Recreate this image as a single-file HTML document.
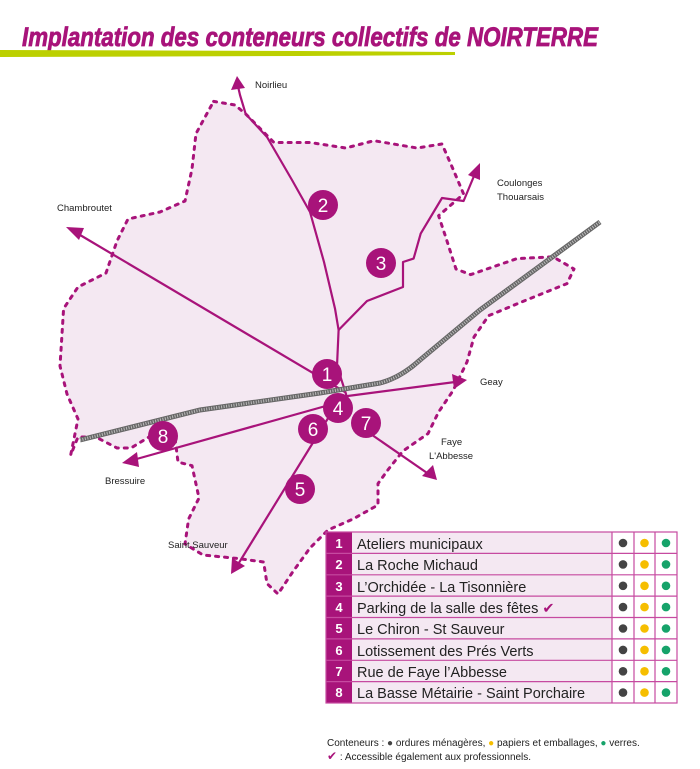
<!DOCTYPE html>
<html><head><meta charset="utf-8"><style>
body{margin:0;width:700px;height:769px;background:#fff;overflow:hidden;position:relative;font-family:"Liberation Sans",sans-serif}
svg{position:absolute;left:0;top:0}
</style></head><body>
<svg width="700" height="769" viewBox="0 0 700 769">
<text x="22" y="46" font-family="Liberation Sans Narrow, Liberation Sans, sans-serif" font-weight="bold" font-style="italic" font-size="27" fill="#a8137a" stroke="#a8137a" stroke-width="0.8" textLength="576" lengthAdjust="spacingAndGlyphs">Implantation des conteneurs collectifs de NOIRTERRE</text>
<path d="M0 50 L300 51 L455 52 L455 55 L300 56 L0 57 Z" fill="#bcd000"/>
<path d="M213.6,101.4 L235,105 L245.7,114 L274,142.5 L310,142.5 L345.7,148 L374,140.7 L417,148 L442,144 L453,169 L463.6,194 L438.6,215.7 L445.7,237 L456,269 L470.7,274.6 L517,258.6 L553,256.8 L574,269 L567,283.6 L524,301 L488.6,315.7 L474,337 L467,362 L453,390.7 L438.6,412 L428,433.6 L403,451 L388.6,469 L378,483.6 L378,505 L353,519 L328,530 L310,548 L292,573 L278,594 L267,583.6 L263.6,562 L238.6,558.6 L203,555 L185,544 L188.6,519 L199,498 L192,465.7 L178,462 L174,430 L149,437 L131,448 L117,448 L95.7,437 L78,437 L70.7,455 L78,419 L67,394 L60,366 L63.6,308.6 L78,287 L106,273 L117,241 L128,219 L160,212 L185,201 L192,169 L196,133.6 Z" fill="#f4e8f2" stroke="#a8137a" stroke-width="3" stroke-dasharray="3,6" stroke-linecap="round" stroke-linejoin="round"/>
<g stroke="#a8137a" stroke-width="2.2" fill="none" stroke-linejoin="round">
<path d="M237,82 L240,95 L245.7,114 L267,137 L292,180 L310,212 L324,262 L335,308.6 L338.6,330 L337,366 L346,394 L349,412"/>
<path d="M338.6,330 L367,301 L403,287 L403,262 L413.6,258.6 L420.7,233.6 L442,198 L463.6,201 L474,176"/>
<path d="M345,392 L75,232"/>
<path d="M340,397 L455,382"/>
<path d="M340,402 L133,460"/>
<path d="M330,415 L237,566"/>
<path d="M362,428 L430,475"/>
</g>
<g fill="#a8137a">
<polygon points="237,76 231,90 245,88"/>
<polygon points="480,163 468,175 480,180"/>
<polygon points="66,227 79,240 84,228"/>
<polygon points="467,380 452,374 454,389"/>
<polygon points="122,463 137,452 139,467"/>
<polygon points="231,574 232,558 245,566"/>
<polygon points="437,480 422,476 433,465"/>
</g>
<path d="M80,440 L200,410 L320,393 L380,383 Q400,378 420,360 L480,310 L600,222" stroke="#666" stroke-width="5" fill="none"/>
<path d="M80,440 L200,410 L320,393 L380,383 Q400,378 420,360 L480,310 L600,222" stroke="#bbb" stroke-width="3" stroke-dasharray="1,1.5" fill="none"/>
<g fill="#a8137a">
<circle cx="327" cy="374" r="15"/><circle cx="323" cy="205" r="15"/><circle cx="381" cy="263" r="15"/>
<circle cx="338" cy="408" r="15"/><circle cx="300" cy="489" r="15"/><circle cx="313" cy="429" r="15"/>
<circle cx="366" cy="423" r="15"/><circle cx="163" cy="436" r="15"/>
</g>
<g fill="#fff" font-size="19" text-anchor="middle">
<text x="327" y="381">1</text><text x="323" y="212">2</text><text x="381" y="270">3</text>
<text x="338" y="415">4</text><text x="300" y="496">5</text><text x="313" y="436">6</text>
<text x="366" y="430">7</text><text x="163" y="443">8</text>
</g>
<g font-size="9.5" fill="#222" font-family="Liberation Sans Narrow, Liberation Sans, sans-serif">
<text x="255" y="88">Noirlieu</text>
<text x="57" y="211">Chambroutet</text>
<text x="497" y="186">Coulonges</text><text x="497" y="200">Thouarsais</text>
<text x="480" y="385">Geay</text>
<text x="441" y="445">Faye</text><text x="429" y="459">L'Abbesse</text>
<text x="105" y="484">Bressuire</text>
<text x="168" y="548">Saint Sauveur</text>
</g>
<g>
<rect x="326" y="532" width="351" height="171" fill="#fff"/>
<rect x="352" y="532" width="260" height="171" fill="#f4e8f2"/>
<rect x="326" y="532" width="26" height="171" fill="#a8137a"/>
<g stroke="#c64aa0" stroke-width="1.2" fill="none">
<rect x="326" y="532" width="351" height="171"/>
<line x1="612" y1="532" x2="612" y2="703"/><line x1="634" y1="532" x2="634" y2="703"/><line x1="655" y1="532" x2="655" y2="703"/>
<line x1="326" y1="553.4" x2="677" y2="553.4"/><line x1="326" y1="574.8" x2="677" y2="574.8"/><line x1="326" y1="596.1" x2="677" y2="596.1"/><line x1="326" y1="617.5" x2="677" y2="617.5"/><line x1="326" y1="638.9" x2="677" y2="638.9"/><line x1="326" y1="660.3" x2="677" y2="660.3"/><line x1="326" y1="681.6" x2="677" y2="681.6"/>
</g>
<g font-size="14.5" fill="#222">
<text x="357" y="549">Ateliers municipaux</text>
<text x="357" y="570">La Roche Michaud</text>
<text x="357" y="592">L’Orchidée - La Tisonnière</text>
<text x="357" y="613">Parking de la salle des fêtes <tspan fill="#a8137a">✔</tspan></text>
<text x="357" y="634">Le Chiron - St Sauveur</text>
<text x="357" y="656">Lotissement des Prés Verts</text>
<text x="357" y="677">Rue de Faye l’Abbesse</text>
<text x="357" y="698">La Basse Métairie - Saint Porchaire</text>
</g>
<g font-size="13" fill="#fff" font-weight="bold" text-anchor="middle">
<text x="339" y="548">1</text><text x="339" y="569">2</text><text x="339" y="591">3</text><text x="339" y="612">4</text><text x="339" y="633">5</text><text x="339" y="655">6</text><text x="339" y="676">7</text><text x="339" y="697">8</text>
</g>
<g id="d">
<circle cx="623" cy="543" r="4.3" fill="#444"/><circle cx="644.5" cy="543" r="4.3" fill="#f6be00"/><circle cx="666" cy="543" r="4.3" fill="#16a36a"/>
</g>
<use href="#d" y="21.4"/><use href="#d" y="42.8"/><use href="#d" y="64.1"/><use href="#d" y="85.5"/><use href="#d" y="106.9"/><use href="#d" y="128.3"/><use href="#d" y="149.6"/>
</g>
<g font-size="10" fill="#222">
<text x="327" y="746">Conteneurs : <tspan fill="#444">●</tspan> ordures ménagères, <tspan fill="#f6be00">●</tspan> papiers et emballages, <tspan fill="#16a36a">●</tspan> verres.</text>
<text x="327" y="760"><tspan fill="#a8137a" font-size="12">✔</tspan> :  Accessible également aux professionnels.</text>
</g>
</svg>
</body></html>
